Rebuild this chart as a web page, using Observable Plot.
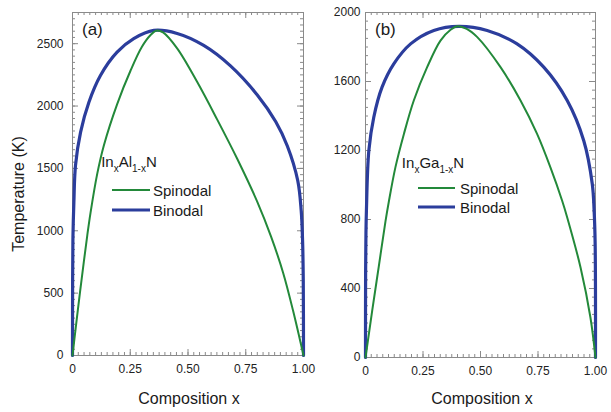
<!DOCTYPE html>
<html><head><meta charset="utf-8">
<script src="https://cdn.jsdelivr.net/npm/d3@7"></script>
<script src="https://cdn.jsdelivr.net/npm/@observablehq/plot@0.6"></script>
<style>
body{margin:0;background:#fff;}
#chart{position:relative;width:611px;height:412px;font-family:"Liberation Sans",Arial,sans-serif;}
#chart svg{position:absolute;top:0;overflow:visible;}
</style></head><body><div id="chart"></div>
<script>
// ---- tick values ----
const xTicks = [0, 0.25, 0.5, 0.75, 1];
const yTicksA = [0, 500, 1000, 1500, 2000, 2500];
const yTicksB = [0, 400, 800, 1200, 1600, 2000];

// ---- (a) InxAl1-xN ----
const binodalA_x = [0, 0.0005, 0.002, 0.006, 0.013, 0.035, 0.071, 0.121, 0.193, 0.265, 0.352, 0.453, 0.568, 0.684, 0.80, 0.88, 0.93, 0.975, 0.99, 0.996, 0.999, 1];
const binodalA_T = [0, 600, 950, 1229, 1524, 1791, 2031, 2245, 2432, 2540, 2606, 2582, 2486, 2322, 2089, 1874, 1680, 1403, 1163, 922, 601, 0];
const spinodalA_x = [0, 0.0139, 0.032, 0.049, 0.064, 0.078, 0.107, 0.136, 0.193, 0.251, 0.30, 0.338, 0.365, 0.392, 0.453, 0.54, 0.626, 0.713, 0.80, 0.86, 0.912, 0.955, 1];
const spinodalA_T = [0, 221, 500, 751, 964, 1144, 1456, 1686, 2014, 2283, 2473, 2569, 2606, 2590, 2462, 2192, 1893, 1577, 1232, 951, 662, 358, 0];

// ---- (b) InxGa1-xN ----
const binodalB_x = [0, 0.0005, 0.002, 0.004, 0.0145, 0.036, 0.072, 0.123, 0.196, 0.297, 0.406, 0.529, 0.659, 0.775, 0.877, 0.949, 0.986, 0.994, 0.9985, 1];
const binodalB_T = [0, 500, 720, 851, 1199, 1393, 1567, 1702, 1818, 1896, 1920, 1896, 1818, 1683, 1490, 1257, 1006, 851, 658, 0];
const spinodalB_x = [0, 0.029, 0.058, 0.087, 0.101, 0.130, 0.167, 0.210, 0.268, 0.326, 0.37, 0.40, 0.44, 0.486, 0.587, 0.674, 0.746, 0.804, 0.855, 0.877, 0.935, 0.978, 1];
const spinodalB_T = [0, 270, 530, 790, 900, 1102, 1296, 1490, 1683, 1837, 1900, 1920, 1905, 1857, 1683, 1490, 1296, 1102, 909, 812, 522, 232, 0];

const GREEN = "#23893a", BLUE = "#2b3d9c", GRAY = "#8a8a8a";
const FONT = "'Liberation Sans', Arial, sans-serif";
const zip = (xs, ts) => xs.map((x, i) => ({x, T: ts[i]}));
const fmtX = d => d === 0 ? "0" : d.toFixed(2);

function panel({width, mL, mR, mT, mB, yMax, yTicks, yStep, bin, spin, tickPad}) {
  const H = 412 - mT - mB, W = width - mL - mR;
  const minorX = d3.range(0, 40 + 1).map(i => i * 0.025);
  const minorY = d3.range(0, Math.floor(yMax / yStep) + 1).map(i => i * yStep);
  return Plot.plot({
    width, height: 412,
    marginLeft: mL, marginRight: mR, marginTop: mT, marginBottom: mB,
    x: {domain: [0, 1]},
    y: {domain: [0, yMax]},
    style: {fontFamily: FONT, fontSize: "12px", color: "#222", background: "transparent", overflow: "visible"},
    marks: [
      // minor ticks (inward, all four sides)
      Plot.tickX(minorX, {x: d => d, insetTop: H - 3, stroke: GRAY}),
      Plot.tickX(minorX, {x: d => d, insetBottom: H - 3, stroke: GRAY}),
      Plot.tickY(minorY, {y: d => d, insetRight: W - 3, stroke: GRAY}),
      Plot.tickY(minorY, {y: d => d, insetLeft: W - 3, stroke: GRAY}),
      // major ticks
      Plot.tickX(xTicks, {x: d => d, insetTop: H - 6, stroke: GRAY}),
      Plot.tickX(xTicks, {x: d => d, insetBottom: H - 6, stroke: GRAY}),
      Plot.tickY(yTicks, {y: d => d, insetRight: W - 6, stroke: GRAY}),
      Plot.tickY(yTicks, {y: d => d, insetLeft: W - 6, stroke: GRAY}),
      Plot.frame({stroke: GRAY, strokeWidth: 1}),
      Plot.line(bin, {x: "x", y: "T", stroke: BLUE, strokeWidth: 3.2, curve: "catmull-rom"}),
      Plot.line(spin, {x: "x", y: "T", stroke: GREEN, strokeWidth: 2, curve: "catmull-rom"}),
      Plot.axisX(xTicks, {tickSize: 0, tickPadding: 9, tickFormat: fmtX, label: null, fontSize: 12}),
      Plot.axisY(yTicks, {tickSize: 0, tickPadding: tickPad, tickFormat: d => String(d), label: null, fontSize: 12})
    ]
  });
}

function addText(svg, x, y, str, size, anchor = "start") {
  return d3.select(svg).append("text").attr("x", x).attr("y", y)
    .attr("font-family", FONT).attr("font-size", size).attr("fill", "#1a1a1a")
    .attr("text-anchor", anchor).text(str);
}
function addFormula(svg, x, y, parts) {
  const t = d3.select(svg).append("text").attr("x", x).attr("y", y)
    .attr("font-family", FONT).attr("font-size", 15).attr("fill", "#1a1a1a");
  let prevSub = false;
  parts.forEach(([s, sub]) => {
    const ts = t.append("tspan").text(s);
    if (sub && !prevSub) ts.attr("dy", 5).attr("font-size", 10);
    else if (sub) ts.attr("font-size", 10);
    else if (!sub && prevSub) ts.attr("dy", -5);
    prevSub = sub;
  });
}
function addLegend(svg, x1, x2, yS, yB, tx) {
  const g = d3.select(svg);
  g.append("line").attr("x1", x1).attr("x2", x2).attr("y1", yS).attr("y2", yS).attr("stroke", GREEN).attr("stroke-width", 2);
  g.append("line").attr("x1", x1).attr("x2", x2).attr("y1", yB).attr("y2", yB).attr("stroke", BLUE).attr("stroke-width", 3.2);
  addText(svg, tx, yS + 6, "Spinodal", 15);
  addText(svg, tx, yB + 6, "Binodal", 15);
}

const root = document.getElementById("chart");

const svgA = panel({width: 308, mL: 72, mR: 5, mT: 12, mB: 57, yMax: 2750, yTicks: yTicksA, yStep: 50,
  bin: zip(binodalA_x, binodalA_T), spin: zip(spinodalA_x, spinodalA_T), tickPad: 9});
svgA.style.left = "0px";
root.appendChild(svgA);
addText(svgA, 82, 35, "(a)", 17);
addFormula(svgA, 129, 167, [["In", false], ["x", true], ["Al", false], ["1-x", true], ["N", false]]);
addLegend(svgA, 112, 150, 190, 210, 153);
d3.select(svgA).append("text").attr("transform", "translate(24,194) rotate(-90)")
  .attr("font-family", FONT).attr("font-size", 16).attr("fill", "#1a1a1a").attr("text-anchor", "middle")
  .text("Temperature (K)");
addText(svgA, 189, 404, "Composition x", 16, "middle");

const svgB = panel({width: 303, mL: 57, mR: 16, mT: 12, mB: 55, yMax: 2000, yTicks: yTicksB, yStep: 50,
  bin: zip(binodalB_x, binodalB_T), spin: zip(spinodalB_x, spinodalB_T), tickPad: 5});
svgB.style.left = "308px";
root.appendChild(svgB);
addText(svgB, 67, 35, "(b)", 17);
addFormula(svgB, 125, 168, [["In", false], ["x", true], ["Ga", false], ["1-x", true], ["N", false]]);
addLegend(svgB, 110, 147, 188, 207, 152);
addText(svgB, 174, 404, "Composition x", 16, "middle");
</script></body></html>
